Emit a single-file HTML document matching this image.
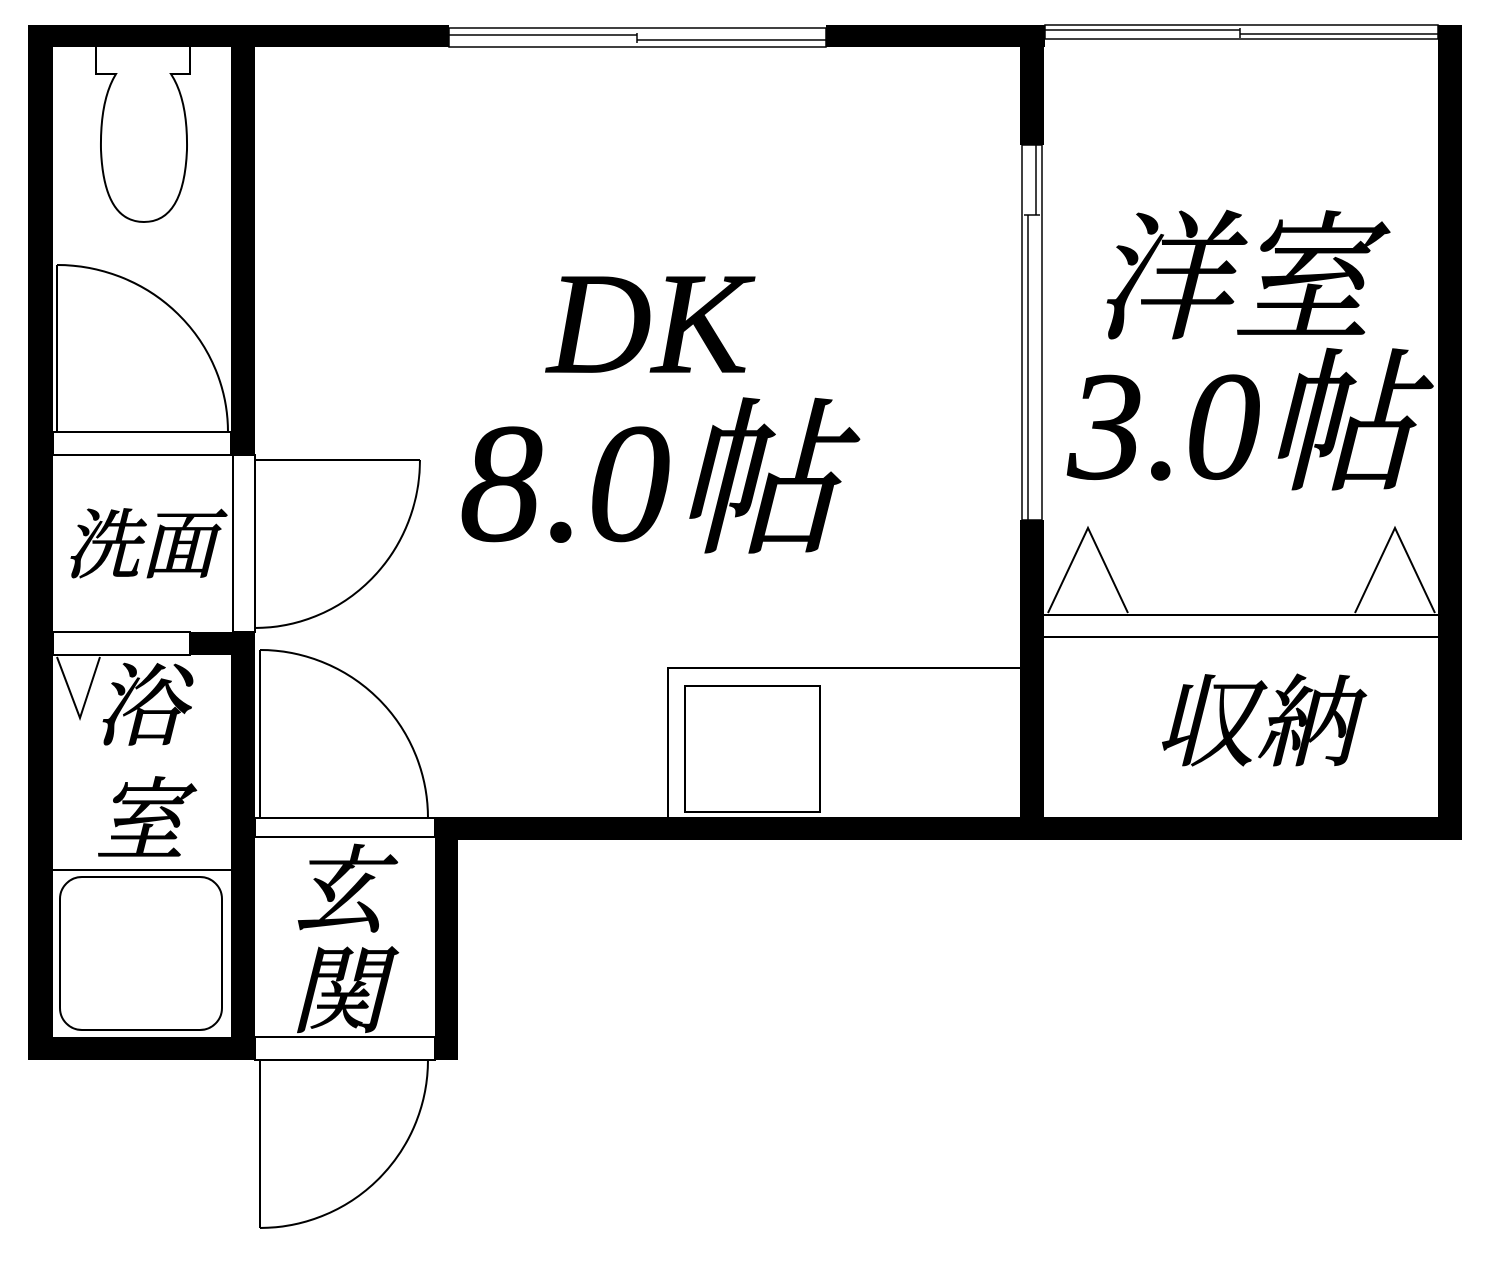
<!DOCTYPE html>
<html><head><meta charset="utf-8"><style>
html,body{margin:0;padding:0;background:#fff}
svg{display:block}
text{font-family:"Liberation Serif","Noto Serif CJK JP","Noto Serif CJK SC",serif;font-style:italic;fill:#000;stroke:#000;stroke-width:1.2;text-anchor:middle}
</style></head><body>
<svg width="1497" height="1273" viewBox="0 0 1497 1273" xmlns="http://www.w3.org/2000/svg">
<g fill="#000">
<rect x="28" y="25" width="25" height="1035"/>
<rect x="28" y="25" width="421" height="22"/>
<rect x="826" y="25" width="219" height="22"/>
<rect x="1438" y="25" width="24" height="815"/>
<rect x="435" y="817" width="1027" height="23"/>
<rect x="28" y="1037" width="227" height="23"/>
<rect x="435" y="817" width="23" height="243"/>
<rect x="231" y="25" width="24" height="430"/>
<rect x="231" y="632" width="24" height="428"/>
<rect x="190" y="632" width="65" height="23"/>
<rect x="1020" y="25" width="24" height="120"/>
<rect x="1020" y="520" width="24" height="320"/>
</g>
<g fill="none" stroke="#000" stroke-width="2">
<rect x="449" y="28" width="377" height="19" stroke-width="1.5"/>
<line x1="449" y1="35" x2="637" y2="35" stroke-width="1.5"/>
<line x1="637" y1="40" x2="826" y2="40" stroke-width="1.5"/>
<line x1="637" y1="33" x2="637" y2="43" stroke-width="1.5"/>
<rect x="1045" y="25" width="393" height="14" stroke-width="1.5"/>
<line x1="1045" y1="30" x2="1240" y2="30" stroke-width="1.5"/>
<line x1="1240" y1="34" x2="1438" y2="34" stroke-width="1.5"/>
<line x1="1240" y1="28" x2="1240" y2="38" stroke-width="1.5"/>
<rect x="1022" y="145" width="20" height="375" stroke-width="1.5"/>
<line x1="1028" y1="215" x2="1028" y2="520" stroke-width="1.5"/>
<line x1="1036" y1="145" x2="1036" y2="215" stroke-width="1.5"/>
<line x1="1024" y1="215" x2="1040" y2="215" stroke-width="1.5"/>
<path d="M96 45 V74 H116 Q100 100 101 150 Q104 222 144 222 Q184 222 187 150 Q188 100 171 74 H190 V45"/>
<line x1="57" y1="265" x2="57" y2="432"/>
<path d="M57 265 A171 167 0 0 1 228 432"/>
<rect x="53" y="432" width="178" height="23"/>
<rect x="233" y="455" width="22" height="177"/>
<line x1="255" y1="460" x2="420" y2="460"/>
<path d="M420 460 A165 168 0 0 1 255 628"/>
<rect x="53" y="632" width="137" height="23"/>
<path d="M57 657 L80 718 L100 657"/>
<line x1="53" y1="870" x2="231" y2="870"/>
<rect x="60" y="877" width="162" height="153" rx="22"/>
<line x1="260" y1="650" x2="260" y2="818"/>
<path d="M260 650 A168 168 0 0 1 428 818"/>
<rect x="255" y="818" width="180" height="19"/>
<rect x="255" y="1037" width="180" height="23"/>
<line x1="260" y1="1060" x2="260" y2="1228"/>
<path d="M428 1060 A168 168 0 0 1 260 1228"/>
<polyline points="668,817 668,668 1020,668"/>
<rect x="685" y="686" width="135" height="126"/>
<line x1="1044" y1="615" x2="1438" y2="615"/>
<line x1="1044" y1="637" x2="1438" y2="637"/>
<polyline points="1048,613 1088,528 1128,613"/>
<polyline points="1355,613 1395,528 1435,613"/>
</g>
<text x="648" y="372" font-size="145">DK</text>
<text x="650" y="540" font-size="170">8.0帖</text>
<text x="1232" y="328" font-size="140">洋室</text>
<text x="1242" y="478" font-size="155">3.0帖</text>
<text x="1255" y="758" font-size="100">収納</text>
<text x="140" y="572" font-size="76">洗面</text>
<text x="140" y="738" font-size="90">浴</text>
<text x="140" y="852" font-size="90">室</text>
<text x="338" y="925" font-size="96">玄</text>
<text x="338" y="1025" font-size="96">関</text>
</svg>
</body></html>
